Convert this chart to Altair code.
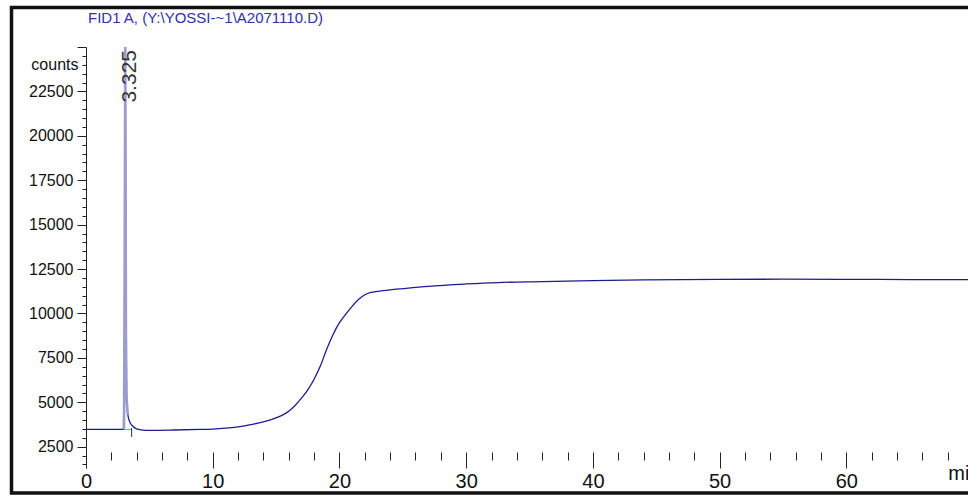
import altair as alt
import pandas as pd

# ---- data ----
trace_time = [0, 1, 2, 2.9, 2.95, 3.0, 3.05, 3.1, 3.15, 3.2, 3.3, 3.45, 3.7, 4.0, 4.5,
              5, 7, 9, 10, 11, 12, 13, 14, 15, 15.5, 16, 16.5, 17, 17.5, 18, 18.5,
              19, 19.5, 20, 20.5, 21, 21.5, 22, 22.5, 23, 24, 25, 27, 30, 32.5, 36,
              40, 44, 50, 55, 60, 65, 69.6]
trace_counts = [3480, 3480, 3480, 3480, 3490, 3600, 12000, 25000, 9000, 5200, 4300, 3900,
                3650, 3500, 3430,
                3420, 3440, 3470, 3490, 3540, 3620, 3740, 3900, 4120, 4280, 4500, 4820,
                5230, 5700, 6300, 7050, 8000, 8820, 9480, 9960, 10400, 10780, 11050,
                11180, 11240, 11330, 11400, 11530, 11660, 11740, 11790, 11850, 11890,
                11920, 11930, 11920, 11910, 11900]

peak_time = 3.1
peak_label = "3.325"

event_time = [2.95, 3.6]
event_low = [3500, 3050]
event_high = [3980, 3550]

y_ticks = list(range(1500, 25001, 500))
x_ticks = list(range(0, 70, 2))

title_text = "FID1 A, (Y:\\YOSSI-~1\\A2071110.D)"

FONT = "'Liberation Sans', Arial, sans-serif"
NAVY = "#1c1c90"

trace = pd.DataFrame({"t": trace_time, "c": trace_counts})
peak = trace[(trace.t >= 2.95) & (trace.t <= 3.3)]
events = pd.DataFrame({"t": event_time, "lo": event_low, "hi": event_high})
one = pd.DataFrame({"label": [peak_label], "t": [peak_time]})

xscale = alt.Scale(domain=[0, 69.6], nice=False, zero=False)
yscale = alt.Scale(domain=[1300, 25000], nice=False, zero=False)

x_axis = alt.Axis(
    values=x_ticks, tickCount=500, format="d", title=None, grid=False, domain=False,
    labelExpr="datum.value % 10 == 0 ? datum.label : (datum.value == 68 ? ' min' : '')",
    tickSize={"condition": {"test": "datum.value % 10 === 0", "value": 16}, "value": 8},
    labelAlign={"condition": {"test": "datum.value === 68", "value": "left"}, "value": "center"},
    labelFontSize={"condition": {"test": "datum.value % 10 === 0 || datum.value === 68", "value": 20}, "value": 0},
    offset=-16, labelFlush=False, labelOverlap=False, labelBaseline="top",
    labelPadding=3, labelFont=FONT, labelColor="#111",
    tickColor="#222", tickWidth=1,
)
y_axis = alt.Axis(
    values=y_ticks, tickCount=500, format="d", title=None, grid=False,
    labelExpr="datum.value == 24000 ? 'counts' : (datum.value % 2500 == 0 && datum.value < 25000 ? datum.label : '')",
    tickSize={"condition": {"test": "datum.value % 2500 === 0", "value": 9}, "value": 4},
    labelFontSize={"condition": {"test": "(datum.value % 2500 === 0 && datum.value < 25000) || datum.value === 24000", "value": 16}, "value": 0},
    labelOverlap=False, labelFlush=False, labelPadding=4,
    labelFont=FONT, labelColor="#111",
    domainColor="#222", tickColor="#222", tickWidth=1,
)

base = alt.Chart(trace)
line = base.mark_line(color=NAVY, strokeWidth=1.3, clip=True, interpolate="monotone").encode(
    x=alt.X("t:Q", scale=xscale, axis=x_axis),
    y=alt.Y("c:Q", scale=yscale, axis=y_axis),
)
peak_line = alt.Chart(peak).mark_line(color="#9c9ccf", strokeWidth=2.6, clip=True).encode(
    x=alt.X("t:Q", scale=xscale), y=alt.Y("c:Q", scale=yscale)
)
base_seg = alt.Chart(events).mark_rule(color="#e070b0", strokeWidth=1).encode(
    x=alt.X("min(t):Q", scale=xscale), x2="max(t):Q", y=alt.datum(3470)
)
ev = alt.Chart(events).mark_rule(color="#333", strokeWidth=1).encode(
    x=alt.X("t:Q", scale=xscale), y=alt.Y("lo:Q", scale=yscale), y2="hi:Q"
)
plabel = alt.Chart(one).mark_text(
    angle=270, align="right", baseline="middle", font=FONT, fontSize=21,
    color="#333", dy=5
).encode(x=alt.X("t:Q", scale=xscale), y=alt.value(3), text="label:N")

title = alt.Chart(one).mark_text(
    align="left", baseline="middle", font=FONT, fontSize=15, color="#3030a8"
).encode(x=alt.value(2), y=alt.value(-29), text=alt.value(title_text))

frame = alt.Chart(one).mark_rect(
    fillOpacity=0, stroke="#111", strokeWidth=3.5
).encode(x=alt.value(-74.5), x2=alt.value(900), y=alt.value(-39.5), y2=alt.value(446))

chart = alt.layer(frame, base_seg, ev, line, peak_line, plabel, title).properties(
    width=882, height=421,
    autosize=alt.AutoSizeParams(type="none"),
    padding={"left": 86, "top": 47, "right": 0, "bottom": 27},
    background="white",
).configure_view(stroke=None)

chart.save("out.html", embed_options={"renderer": "svg", "actions": False})
